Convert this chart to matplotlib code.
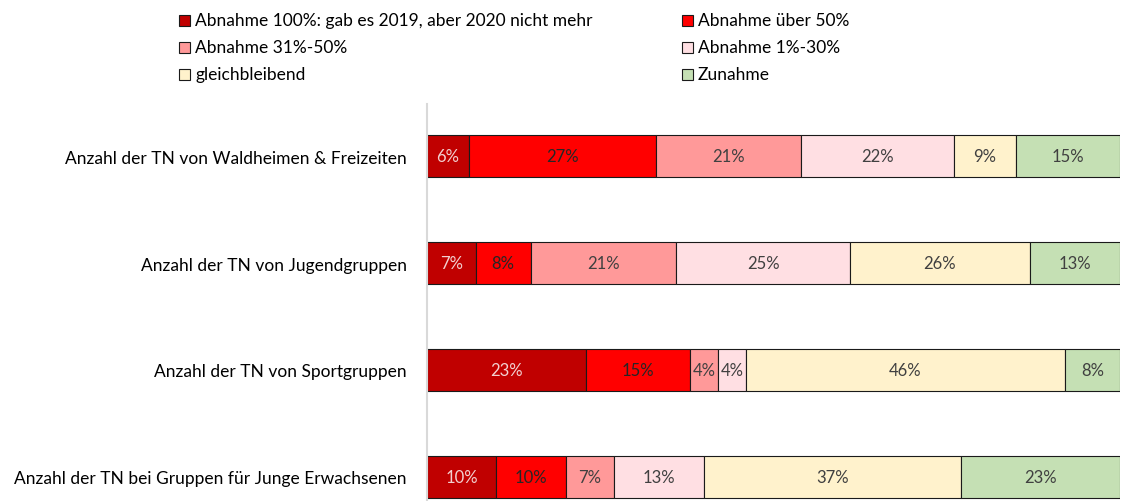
import matplotlib
matplotlib.use("Agg")
import matplotlib.pyplot as plt
from matplotlib.patches import Rectangle

plt.rcParams['font.family'] = ['Lato', 'DejaVu Sans']

categories = [
    "Anzahl der TN von Waldheimen & Freizeiten",
    "Anzahl der TN von Jugendgruppen",
    "Anzahl der TN von Sportgruppen",
    "Anzahl der TN bei Gruppen für Junge Erwachsenen",
]
series_names = [
    "Abnahme 100%: gab es 2019, aber 2020 nicht mehr",
    "Abnahme über 50%",
    "Abnahme 31%-50%",
    "Abnahme 1%-30%",
    "gleichbleibend",
    "Zunahme",
]
abnahme_100 = [6, 7, 23, 10]
abnahme_50 = [27, 8, 15, 10]
abnahme_31_50 = [21, 21, 4, 7]
abnahme_1_30 = [22, 25, 4, 13]
gleichbleibend = [9, 26, 46, 37]
zunahme = [15, 13, 8, 23]
series = [abnahme_100, abnahme_50, abnahme_31_50, abnahme_1_30, gleichbleibend, zunahme]

colors = ["#C00000", "#FF0000", "#FF9999", "#FFDFE3", "#FFF2CC", "#C5E0B4"]
text_colors = ["#F2D0D0", "#262626", "#404040", "#404040", "#404040", "#404040"]

W, H = 1124, 502
fig = plt.figure(figsize=(W / 100, H / 100), dpi=100)
ax_left, ax_right, ax_top, ax_bottom = 427, 1120, 105, 502
ax = fig.add_axes([ax_left / W, 1 - ax_bottom / H, (ax_right - ax_left) / W, (ax_bottom - ax_top) / H])

ypos = list(range(len(categories)))
bar_h = 0.40
left = [0] * len(categories)
for s, vals in enumerate(series):
    ax.barh(ypos, vals, left=left, height=bar_h, color=colors[s],
            edgecolor="#1a1a1a", linewidth=0.8, zorder=2)
    for i, v in enumerate(vals):
        ax.text(left[i] + v / 2, ypos[i], f"{v}%", ha="center", va="center",
                fontsize=12, color=text_colors[s], zorder=3)
    left = [l + v for l, v in zip(left, vals)]

ax.set_xlim(0, 100)
ax.set_ylim(3 + 24 / 107, -52 / 107)
ax.set_xticks([])
ax.set_yticks(ypos)
ax.set_yticklabels(categories, fontsize=12.5, color="#000000")
ax.tick_params(axis="y", length=0, pad=14.5)
for sp in ["top", "right", "bottom"]:
    ax.spines[sp].set_visible(False)
ax.spines["left"].set_color("#D9D9D9")
ax.spines["left"].set_linewidth(1.5)

# legend (row-wise, two columns)
col_x = [179, 682]
text_x = [195, 698]
row_y = [21, 48, 75]
sq = 11
for k, name in enumerate(series_names):
    r, c = divmod(k, 2)
    x0 = col_x[c]
    y0 = row_y[r]
    fig.patches.append(Rectangle((x0 / W, 1 - (y0 + sq / 2) / H), sq / W, sq / H,
                                 transform=fig.transFigure, facecolor=colors[k],
                                 edgecolor="#1a1a1a", linewidth=0.8))
    fig.text(text_x[c] / W, 1 - y0 / H, name, ha="left", va="center",
             fontsize=12.5, color="#000000")

fig.savefig("out.png", dpi=100)
